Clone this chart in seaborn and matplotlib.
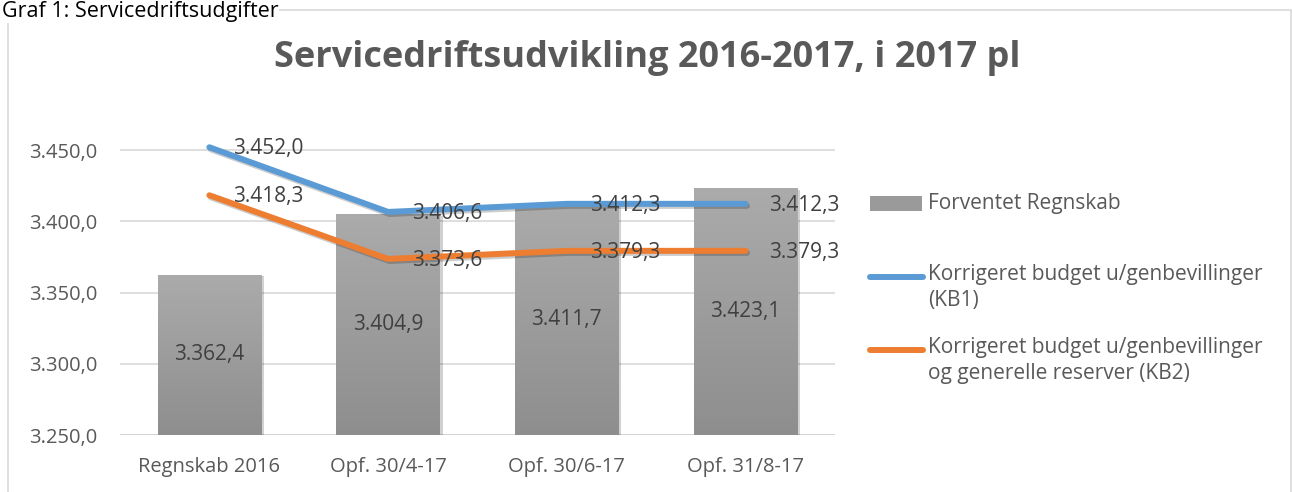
import numpy as np
import pandas as pd
import matplotlib
matplotlib.use("Agg")
import matplotlib.pyplot as plt
import matplotlib.patheffects as pe
from matplotlib.lines import Line2D
from matplotlib.patches import Rectangle
import seaborn as sns

categories = ["Regnskab 2016", "Opf. 30/4-17", "Opf. 30/6-17", "Opf. 31/8-17"]
forventet = [3362.4, 3404.9, 3411.7, 3423.1]
kb1 = [3452.0, 3406.6, 3412.3, 3412.3]
kb2 = [3418.3, 3373.6, 3379.3, 3379.3]
yticks = [3250, 3300, 3350, 3400, 3450]

label_bar = "Forventet Regnskab"
label_kb1 = "Korrigeret budget u/genbevillinger\n(KB1)"
label_kb2 = "Korrigeret budget u/genbevillinger\nog generelle reserver (KB2)"

sns.set_theme(style="white")
plt.rcParams['font.family'] = ['Open Sans', 'DejaVu Sans']

TXT = "#595959"
BLUE = "#5B9BD5"
ORANGE = "#ED7D31"


def dk(v):
    s = f"{v:,.1f}"
    return s.replace(",", "X").replace(".", ",").replace("X", ".")


df = pd.DataFrame({"cat": categories, "forventet": forventet, "kb1": kb1, "kb2": kb2})

fig = plt.figure(figsize=(12.92, 4.92), dpi=100)
W, H = 1292, 492
ax = fig.add_axes([120 / W, 1 - 435 / H, 715 / W, (435 - 143) / H])

sns.barplot(data=df, x="cat", y="forventet", ax=ax, color="#a0a0a0", width=0.58,
            saturation=1, edgecolor="none", zorder=2)
ax.set_ylim(3250, 3455)

# gradient on bars
grad = np.linspace(0, 1, 256).reshape(-1, 1)
cmap = matplotlib.colors.LinearSegmentedColormap.from_list("g", ["#8e8e8e", "#ababab"])
for p in ax.patches:
    p.set_path_effects([pe.SimplePatchShadow(offset=(2, -1), alpha=0.18, shadow_rgbFace="#000000"), pe.Normal()])
    x0, y0 = p.get_x(), p.get_y()
    w, h = p.get_width(), p.get_height()
    im = ax.imshow(grad, extent=[x0, x0 + w, ax.get_ylim()[0], y0 + h], origin="lower",
                   cmap=cmap, aspect="auto", zorder=2.1)
    im.set_clip_path(p)

ax.set_xlim(-0.5, 3.5)
ax.set_ylim(3250, 3455)

shadow = [pe.SimpleLineShadow(offset=(1, -1.5), alpha=0.2, shadow_color="black"), pe.Normal()]
sns.lineplot(data=df, x="cat", y="kb1", ax=ax, color=BLUE, linewidth=4.3, sort=False,
             zorder=4, solid_capstyle="round", solid_joinstyle="round")
sns.lineplot(data=df, x="cat", y="kb2", ax=ax, color=ORANGE, linewidth=4.3, sort=False,
             zorder=4, solid_capstyle="round", solid_joinstyle="round")
for ln in ax.lines:
    ln.set_path_effects(shadow)
    ln.set_clip_on(False)

LBL = "#404040"
for i, v in enumerate(forventet):
    ax.text(i, 3250 + (v - 3250) / 2, dk(v), ha="center", va="center",
            fontsize=15, color=LBL, zorder=5)
for i, v in enumerate(kb1):
    ax.annotate(dk(v), (i, v), xytext=(17, -1), textcoords="offset points",
                ha="left", va="center", fontsize=15, color=LBL, zorder=5)
for i, v in enumerate(kb2):
    ax.annotate(dk(v), (i, v), xytext=(17, -1), textcoords="offset points",
                ha="left", va="center", fontsize=15, color=LBL, zorder=5)

ax.set_yticks(yticks)
ax.set_yticklabels([dk(t) for t in yticks], fontsize=14.5, color=TXT)
ax.set_xticks(range(len(categories)))
ax.set_xticklabels(categories, fontsize=14.5, color=TXT)
ax.tick_params(axis="y", length=0, pad=16)
ax.tick_params(axis="x", length=0, pad=16)
ax.set_xlabel("")
ax.set_ylabel("")
ax.grid(axis="y", color="#d9d9d9", linewidth=1.2, zorder=0)
ax.set_axisbelow(True)
for s in ax.spines.values():
    s.set_visible(False)
ax.axhline(3250, color="#d0d0d0", linewidth=1.8, zorder=1)

# chart border
fig.add_artist(Rectangle((8 / W, -0.05), (1291 - 8) / W, 1.05 - 10 / H, transform=fig.transFigure,
                         fill=False, edgecolor="#d9d9d9", linewidth=1.2))
fig.text(2 / W, 1 - 17 / H, "Graf 1: Servicedriftsudgifter", fontsize=15.5, color="black",
         ha="left", va="baseline",
         bbox=dict(facecolor="white", edgecolor="none", pad=0.5))
fig.suptitle("Servicedriftsudvikling 2016-2017, i 2017 pl", x=647 / W, y=1 - 58 / H,
             va="center", fontsize=26, fontweight="bold", color=TXT)

# legend
fig.add_artist(Rectangle((870 / W, 1 - 211 / H), 52 / W, 15 / H, transform=fig.transFigure,
                         facecolor="#9a9a9a", edgecolor="none"))
fig.text(928 / W, 1 - 203 / H, label_bar, fontsize=15, color=TXT, va="center", ha="left")
for yy, col, lab in [(277, BLUE, label_kb1), (350, ORANGE, label_kb2)]:
    fig.add_artist(Line2D([870 / W, 923 / W], [1 - yy / H, 1 - yy / H], transform=fig.transFigure,
                          color=col, linewidth=4.3, solid_capstyle="round"))
    fig.text(928 / W, 1 - (yy - 13) / H, lab, fontsize=15, color=TXT, va="top", ha="left",
             linespacing=1.32)

fig.savefig("out.png", dpi=100)
